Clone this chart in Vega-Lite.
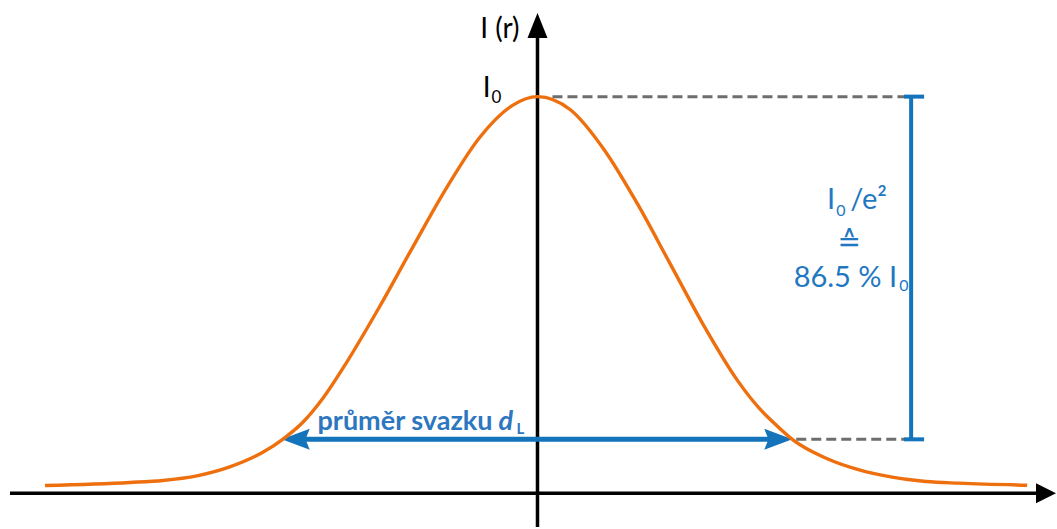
{
  "$schema": "https://vega.github.io/schema/vega-lite/v6.json",
  "width": 1057,
  "height": 529,
  "autosize": {"type": "fit", "contains": "padding"},
  "padding": 0,
  "background": "white",
  "config": {"view": {"stroke": null}},
  "datasets": {
    "curve": [
      {"r": -1.933, "i": 0.0193}, {"r": -1.6, "i": 0.0269}, {"r": -1.471, "i": 0.0319},
      {"r": -1.337, "i": 0.0435}, {"r": -1.208, "i": 0.066}, {"r": -1.078, "i": 0.103},
      {"r": -1.0, "i": 0.1357}, {"r": -0.922, "i": 0.178}, {"r": -0.843, "i": 0.2387},
      {"r": -0.749, "i": 0.33}, {"r": -0.62, "i": 0.47}, {"r": -0.49, "i": 0.62},
      {"r": -0.357, "i": 0.77}, {"r": -0.227, "i": 0.897}, {"r": -0.098, "i": 0.978},
      {"r": 0.0, "i": 1.0}, {"r": 0.129, "i": 0.967}, {"r": 0.263, "i": 0.865},
      {"r": 0.392, "i": 0.73}, {"r": 0.522, "i": 0.577}, {"r": 0.655, "i": 0.42},
      {"r": 0.784, "i": 0.285}, {"r": 0.871, "i": 0.2136}, {"r": 0.937, "i": 0.1716},
      {"r": 1.0, "i": 0.1357}, {"r": 1.133, "i": 0.0879}, {"r": 1.263, "i": 0.0585},
      {"r": 1.392, "i": 0.0402}, {"r": 1.525, "i": 0.0294}, {"r": 1.655, "i": 0.0251},
      {"r": 1.922, "i": 0.02}
    ],
    "rules": [
      {"kind": "axis", "r": -2.0706, "i": 0, "r2": 1.988, "i2": 0},
      {"kind": "axis", "r": 0, "i": -0.0854, "r2": 0, "i2": 1.168},
      {"kind": "dash", "r": 0.0588, "i": 1, "r2": 1.443, "i2": 1},
      {"kind": "dash", "r": 1.0157, "i": 0.13568, "r2": 1.443, "i2": 0.13568},
      {"kind": "bracket", "r": 1.46667, "i": 0.13568, "r2": 1.46667, "i2": 1},
      {"kind": "bracket", "r": 1.439, "i": 1, "r2": 1.5176, "i2": 1},
      {"kind": "bracket", "r": 1.439, "i": 0.13568, "r2": 1.5176, "i2": 0.13568},
      {"kind": "width", "r": -0.95, "i": 0.13568, "r2": 0.94, "i2": 0.13568}
    ],
    "heads": [
      {"kind": "up", "r": 0, "i": 1.17965},
      {"kind": "right", "r": 1.99608, "i": 0},
      {"kind": "bleft", "r": -0.94902, "i": 0.13568},
      {"kind": "bright", "r": 0.9451, "i": 0.13568}
    ],
    "labels": [
      {"g": "black", "t": "I (r)", "r": -0.0706, "i": 1.1482},
      {"g": "black", "t": "I", "r": -0.1843, "i": 1.0},
      {"g": "blacksub", "t": "0", "r": -0.1804, "i": 0.98492},
      {"g": "blueR", "t": "I", "r": 1.16863, "i": 0.71608},
      {"g": "blueR", "t": "86.5 % I", "r": 1.41176, "i": 0.5201},
      {"g": "blueL", "t": "/e²", "r": 1.2275, "i": 0.71608},
      {"g": "blueC", "t": "≙", "r": 1.22353, "i": 0.61055},
      {"g": "blueSub", "t": "0", "r": 1.17255, "i": 0.69849},
      {"g": "blueSub", "t": "0", "r": 1.41961, "i": 0.51005},
      {"g": "boldR", "t": "průměr svazku", "r": -0.17647, "i": 0.15829},
      {"g": "boldI", "t": "d", "r": -0.15294, "i": 0.15829},
      {"g": "boldSub", "t": "L", "r": -0.08235, "i": 0.14824}
    ]
  },
  "encoding": {
    "x": {"field": "r", "type": "quantitative", "axis": null, "scale": {"domain": [-2.1098, 2.03529], "nice": false, "zero": false}},
    "y": {"field": "i", "type": "quantitative", "axis": null, "scale": {"domain": [-0.08543, 1.24372], "nice": false, "zero": false}}
  },
  "layer": [
    {
      "data": {"name": "rules"},
      "transform": [{"filter": "datum.kind === 'axis'"}],
      "mark": {"type": "rule", "color": "#000000", "strokeWidth": 3.5},
      "encoding": {"x2": {"field": "r2"}, "y2": {"field": "i2"}}
    },
    {
      "data": {"name": "heads"},
      "transform": [{"filter": "datum.kind === 'up'"}],
      "mark": {"type": "point", "filled": true, "opacity": 1, "color": "#000000", "shape": "M0,-1L0.8,1L-0.8,1Z", "size": 625, "strokeWidth": 0}
    },
    {
      "data": {"name": "heads"},
      "transform": [{"filter": "datum.kind === 'right'"}],
      "mark": {"type": "point", "filled": true, "opacity": 1, "color": "#000000", "shape": "M1,0L-1,-1L-1,1Z", "size": 400, "strokeWidth": 0}
    },
    {
      "data": {"name": "rules"},
      "transform": [{"filter": "datum.kind === 'dash'"}],
      "mark": {"type": "rule", "color": "#6e6e6e", "strokeWidth": 3, "strokeDash": [10, 5]},
      "encoding": {"x2": {"field": "r2"}, "y2": {"field": "i2"}}
    },
    {
      "data": {"name": "rules"},
      "transform": [{"filter": "datum.kind === 'bracket'"}],
      "mark": {"type": "rule", "color": "#1374bb", "strokeWidth": 4},
      "encoding": {"x2": {"field": "r2"}, "y2": {"field": "i2"}}
    },
    {
      "data": {"name": "rules"},
      "transform": [{"filter": "datum.kind === 'width'"}],
      "mark": {"type": "rule", "color": "#1374bb", "strokeWidth": 5},
      "encoding": {"x2": {"field": "r2"}, "y2": {"field": "i2"}}
    },
    {
      "data": {"name": "heads"},
      "transform": [{"filter": "datum.kind === 'bleft'"}],
      "mark": {"type": "point", "filled": true, "opacity": 1, "color": "#1374bb", "shape": "M-1,0L1,-0.75L0.7,0L1,0.75Z", "size": 784, "strokeWidth": 0}
    },
    {
      "data": {"name": "heads"},
      "transform": [{"filter": "datum.kind === 'bright'"}],
      "mark": {"type": "point", "filled": true, "opacity": 1, "color": "#1374bb", "shape": "M1,0L-1,-0.75L-0.7,0L-1,0.75Z", "size": 784, "strokeWidth": 0}
    },
    {
      "data": {"name": "curve"},
      "mark": {"type": "line", "color": "#ee6f0e", "strokeWidth": 3.4, "interpolate": "monotone"}
    },
    {
      "data": {"name": "labels"},
      "transform": [{"filter": "datum.g === 'black'"}],
      "mark": {"type": "text", "font": "Lato", "fontSize": 28, "color": "#000000", "align": "right", "baseline": "alphabetic"},
      "encoding": {"text": {"field": "t"}}
    },
    {
      "data": {"name": "labels"},
      "transform": [{"filter": "datum.g === 'blacksub'"}],
      "mark": {"type": "text", "font": "Lato", "fontSize": 17, "color": "#000000", "align": "left", "baseline": "alphabetic"},
      "encoding": {"text": {"field": "t"}}
    },
    {
      "data": {"name": "labels"},
      "transform": [{"filter": "datum.g === 'blueR'"}],
      "mark": {"type": "text", "font": "Lato", "fontSize": 29, "color": "#1f78c1", "align": "right", "baseline": "alphabetic"},
      "encoding": {"text": {"field": "t"}}
    },
    {
      "data": {"name": "labels"},
      "transform": [{"filter": "datum.g === 'blueL'"}],
      "mark": {"type": "text", "font": "Lato", "fontSize": 29, "color": "#1f78c1", "align": "left", "baseline": "alphabetic"},
      "encoding": {"text": {"field": "t"}}
    },
    {
      "data": {"name": "labels"},
      "transform": [{"filter": "datum.g === 'blueC'"}],
      "mark": {"type": "text", "font": "DejaVu Sans", "fontSize": 28, "color": "#1f78c1", "align": "center", "baseline": "alphabetic"},
      "encoding": {"text": {"field": "t"}}
    },
    {
      "data": {"name": "labels"},
      "transform": [{"filter": "datum.g === 'blueSub'"}],
      "mark": {"type": "text", "font": "Lato", "fontSize": 16, "color": "#1f78c1", "align": "left", "baseline": "alphabetic"},
      "encoding": {"text": {"field": "t"}}
    },
    {
      "data": {"name": "labels"},
      "transform": [{"filter": "datum.g === 'boldR'"}],
      "mark": {"type": "text", "font": "Lato", "fontSize": 27, "fontWeight": "bold", "color": "#2e77c0", "align": "right", "baseline": "alphabetic"},
      "encoding": {"text": {"field": "t"}}
    },
    {
      "data": {"name": "labels"},
      "transform": [{"filter": "datum.g === 'boldI'"}],
      "mark": {"type": "text", "font": "Lato", "fontSize": 27, "fontWeight": "bold", "fontStyle": "italic", "color": "#2e77c0", "align": "left", "baseline": "alphabetic"},
      "encoding": {"text": {"field": "t"}}
    },
    {
      "data": {"name": "labels"},
      "transform": [{"filter": "datum.g === 'boldSub'"}],
      "mark": {"type": "text", "font": "Lato", "fontSize": 15, "fontWeight": "bold", "color": "#2e77c0", "align": "left", "baseline": "alphabetic"},
      "encoding": {"text": {"field": "t"}}
    }
  ]
}
